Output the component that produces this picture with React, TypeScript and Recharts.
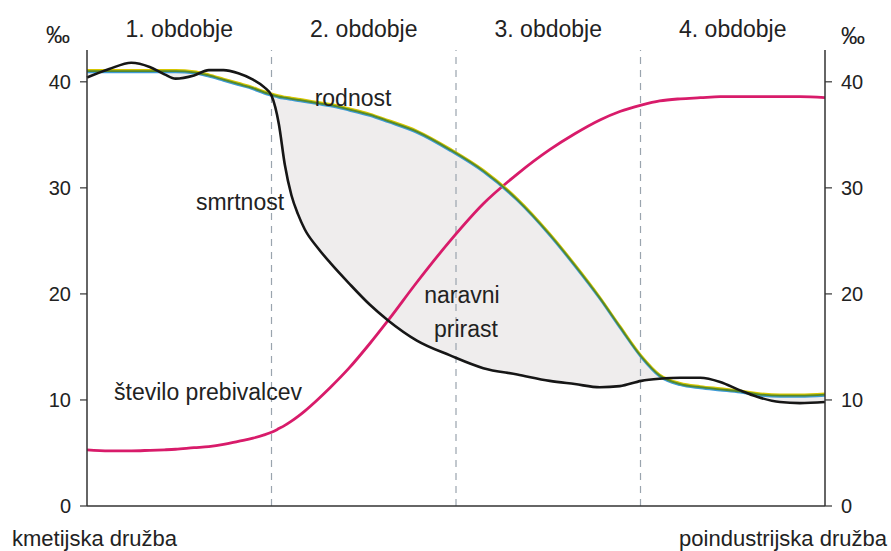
import React from "react";
import {
  ComposedChart,
  Line,
  Area,
  XAxis,
  YAxis,
  ReferenceLine,
  ReferenceArea,
} from "recharts";

// time axis (0 = start of 1st period, 100 = end of 4th period)
const time = [
  0, 3, 6, 8.5, 10.5, 12, 14.5, 16.5, 18.5, 20.5, 22.5, 24, 25, 26, 26.8, 27.7,
  28.6, 29.5, 31.2, 33, 35.5, 38.3, 40.8, 44.7, 49.2, 53.7, 58.3, 62.7, 66.1,
  69.5, 72.2, 75.1, 77.6, 80.4, 83.1, 85.8, 88.5, 90.8, 93.9, 96.6, 100,
];

// birth rate (rodnost), ‰
const rodnost = [
  41.0, 41.0, 41.0, 41.0, 41.0, 41.0, 40.9, 40.6, 40.2, 39.8, 39.4, 39.0, 38.8,
  38.6, 38.5, 38.4, 38.3, 38.2, 38.0, 37.8, 37.4, 36.9, 36.3, 35.3, 33.6, 31.6,
  28.9, 25.6, 22.7, 19.6, 16.9, 14.1, 12.3, 11.5, 11.2, 11.0, 10.8, 10.55, 10.4,
  10.4, 10.5,
];

// death rate (smrtnost), ‰
const smrtnost = [
  40.4, 41.2, 41.8, 41.4, 40.7, 40.3, 40.6, 41.1, 41.1, 40.8, 40.2, 39.5, 38.7,
  36.0, 32.2, 29.3, 27.5, 26.1, 24.4, 22.9, 21.0, 19.0, 17.5, 15.6, 14.2, 13.0,
  12.4, 11.8, 11.5, 11.2, 11.3, 11.8, 12.0, 12.1, 12.1, 11.7, 10.9, 10.3, 9.8,
  9.7, 9.8,
];

// population (število prebivalcev), right axis
const prebivalci = [
  5.3, 5.2, 5.2, 5.25, 5.3, 5.35, 5.5, 5.6, 5.8, 6.1, 6.4, 6.7, 6.95, 7.3, 7.6,
  8.0, 8.45, 8.95, 10.0, 11.2, 13.0, 15.3, 17.5, 21.1, 25.0, 28.5, 31.3, 33.6,
  35.1, 36.4, 37.2, 37.8, 38.2, 38.4, 38.5, 38.6, 38.6, 38.6, 38.6, 38.6, 38.5,
];

const yTicks = [0, 10, 20, 30, 40];
const periodBounds = [25, 50, 75];
const periods = [
  { x1: 0, x2: 25, label: "1. obdobje" },
  { x1: 25, x2: 50, label: "2. obdobje" },
  { x1: 50, x2: 75, label: "3. obdobje" },
  { x1: 75, x2: 100, label: "4. obdobje" },
];

const data = time.map((t, i) => ({
  t,
  rod: rodnost[i],
  smrt: smrtnost[i],
  preb: prebivalci[i],
  prirast: [smrtnost[i], Math.max(rodnost[i], smrtnost[i])],
}));

const FONT = "'Liberation Sans', Arial, sans-serif";
const TXT = "#222";

export default function App() {
  return (
    <div style={{ position: "absolute", left: 0, top: 0, width: 891, height: 551, background: "#fff" }}>
      <style>{`
        .rod-y .recharts-line-curve { transform: translate(0px, -1.1px); }
        .rod-b .recharts-line-curve { transform: translate(0px, 1.1px); }
      `}</style>
      <ComposedChart
        width={891}
        height={551}
        data={data}
        margin={{ top: 50, right: 6, bottom: 0, left: 27 }}
        style={{ fontFamily: FONT }}
      >
        <XAxis
          dataKey="t"
          type="number"
          domain={[0, 100]}
          tick={false}
          tickLine={false}
          height={45}
          axisLine={{ stroke: "#333", strokeWidth: 1.5 }}
        />
        <YAxis
          yAxisId="l"
          domain={[0, 43]}
          ticks={yTicks}
          width={60}
          tickSize={7}
          tickMargin={9}
          axisLine={{ stroke: "#333", strokeWidth: 1.5 }}
          tickLine={{ stroke: "#333", strokeWidth: 1.2 }}
          tick={{ fill: TXT, fontSize: 20, fontFamily: FONT }}
        />
        <YAxis
          yAxisId="r"
          orientation="right"
          domain={[0, 43]}
          ticks={yTicks}
          width={60}
          tickSize={7}
          tickMargin={9}
          axisLine={{ stroke: "#333", strokeWidth: 1.5 }}
          tickLine={{ stroke: "#333", strokeWidth: 1.2 }}
          tick={{ fill: TXT, fontSize: 20, fontFamily: FONT }}
        />
        {periods.map((p) => (
          <ReferenceArea
            key={p.label}
            yAxisId="l"
            x1={p.x1}
            x2={p.x2}
            fill="none"
            stroke="none"
            label={{ value: p.label, position: "top", offset: 13, fill: TXT, fontSize: 23, fontFamily: FONT }}
          />
        ))}
        <Area
          yAxisId="l"
          type="monotone"
          dataKey="prirast"
          fill="#efeded"
          fillOpacity={1}
          stroke="none"
          isAnimationActive={false}
        />
        {periodBounds.map((x) => (
          <ReferenceLine
            key={x}
            yAxisId="l"
            x={x}
            stroke="#9aa4ae"
            strokeWidth={1.2}
            strokeDasharray="7 6"
          />
        ))}
        <Line
          yAxisId="r"
          type="monotone"
          dataKey="preb"
          stroke="#d81b6a"
          strokeWidth={2.8}
          dot={false}
          isAnimationActive={false}
        />
        <Line
          className="rod-b"
          yAxisId="l"
          type="monotone"
          dataKey="rod"
          stroke="#3d9ad6"
          strokeWidth={2}
          dot={false}
          isAnimationActive={false}
        />
        <Line
          className="rod-y"
          yAxisId="l"
          type="monotone"
          dataKey="rod"
          stroke="#d6c600"
          strokeWidth={2}
          dot={false}
          isAnimationActive={false}
        />
        <Line
          yAxisId="l"
          type="monotone"
          dataKey="rod"
          stroke="#55882a"
          strokeWidth={1.8}
          dot={false}
          isAnimationActive={false}
        />
        <Line
          yAxisId="l"
          type="monotone"
          dataKey="smrt"
          stroke="#161616"
          strokeWidth={2.6}
          dot={false}
          isAnimationActive={false}
        />
      </ComposedChart>
      <svg
        width={891}
        height={551}
        style={{ position: "absolute", left: 0, top: 0, pointerEvents: "none", fontFamily: FONT }}
      >
        <text x={58} y={43} textAnchor="middle" fontSize={24} fill={TXT}>‰</text>
        <text x={853} y={44} textAnchor="middle" fontSize={24} fill={TXT}>‰</text>
        <text x={353} y={106} textAnchor="middle" fontSize={23} fill={TXT}>rodnost</text>
        <text x={240} y={210} textAnchor="middle" fontSize={23} fill={TXT}>smrtnost</text>
        <text x={462} y={303} textAnchor="middle" fontSize={23} fill={TXT}>naravni</text>
        <text x={466} y={337} textAnchor="middle" fontSize={23} fill={TXT}>prirast</text>
        <text x={208} y={400} textAnchor="middle" fontSize={23} fill={TXT}>število prebivalcev</text>
        <text x={12} y={546} textAnchor="start" fontSize={22} fill={TXT}>kmetijska družba</text>
        <text x={887} y={546} textAnchor="end" fontSize={22} fill={TXT}>poindustrijska družba</text>
      </svg>
    </div>
  );
}
